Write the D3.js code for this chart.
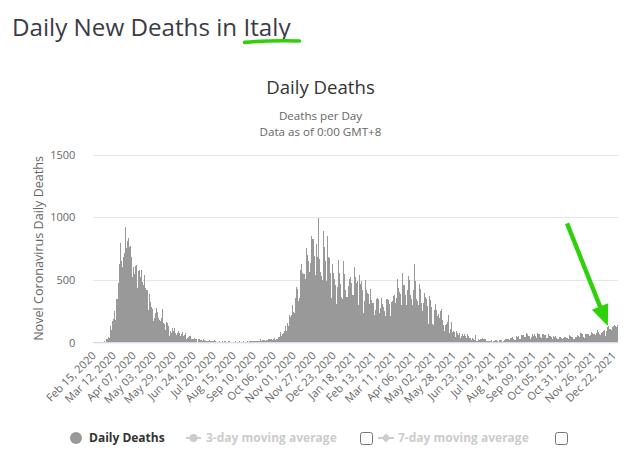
<!DOCTYPE html>
<html><head><meta charset="utf-8">
<script src="https://cdn.jsdelivr.net/npm/d3@7/dist/d3.min.js"></script>
<style>
html,body{margin:0;padding:0;background:#fff;}
svg{display:block;}
text{font-family:"Open Sans","Noto Sans",sans-serif;}
</style></head><body>
<svg id="c" width="641" height="458"></svg>
<script>
// ---- data (daily deaths, Italy) starting Feb 15, 2020 ----
const startDate = "Feb 15, 2020";
const feb2020 = [0,0,0,0,0,0,1,1,1,4,3,2,5,4,8];
const mar2020 = [5,18,27,28,41,49,36,133,97,168,196,189,250,175,368,349,345,475,427,627,793,651,601,743,683,712,919,889,756,812,837];
const apr2020 = [727,760,766,681,525,636,604,542,610,570,619,431,566,602,578,525,575,482,433,454,534,437,464,420,415,260,333,382,323,285];
const may2020 = [269,474,174,195,236,369,274,243,194,165,179,172,195,262,242,153,145,99,162,161,156,130,119,50,92,78,117,70,87,111,75];
const jun2020 = [60,55,71,88,85,72,53,65,79,71,53,56,78,44,26,34,43,66,47,49,24,23,18,30,34,30,8,24,6,23];
const jul2020 = [21,30,15,21,7,8,30,15,12,12,7,7,13,17,20,11,13,11,3,13,15,9,10,5,4,5,5,11,6,3,9];
const aug2020 = [12,5,8,10,6,5,3,11,9,7,3,4,1,6,5,3,7,4,5,6,5,3,9,4,5,13,4,9,1,4,13];
const sep2020 = [6,10,6,10,11,7,10,11,10,10,10,7,7,14,9,12,10,10,24,14,14,20,19,17,14,24,17,16,24,23];
const oct2020 = [23,27,24,17,18,28,31,22,28,29,26,39,41,43,83,47,47,69,73,89,127,136,91,151,128,141,221,205,217,199,297];
const nov2020 = [239,233,353,352,445,425,331,297,356,580,623,636,550,544,546,504,731,753,699,653,692,562,630,853,722,822,827,686,541,672];
const dec2020 = [785,684,993,814,662,564,528,491,499,887,761,649,484,491,846,680,683,674,553,352,415,628,553,505,459,261,305,445,659,575,555];
const jan2021 = [462,364,347,348,649,548,414,483,361,361,448,616,507,522,477,475,377,377,603,524,521,472,492,299,420,541,467,492,477,421,237];
const feb2021 = [329,499,456,421,391,385,221,307,422,336,391,316,311,221,258,336,347,353,347,251,232,274,356,318,308,280,253,207];
const mar2021 = [274,343,347,339,297,307,207,318,376,332,373,380,317,264,354,502,431,423,401,386,300,386,551,460,457,380,376,297,417,529,467];
const apr2021 = [501,376,344,326,296,421,627,487,718,344,331,297,476,469,429,316,344,251,316,390,360,364,342,293,144,301,373,336,278,221];
const may2021 = [144,139,256,305,267,258,207,224,139,198,251,262,201,182,136,93,140,201,149,164,218,125,72,110,166,121,86,87,83,44,67];
const jun2021 = [93,73,62,59,77,32,51,102,65,52,63,52,26,36,63,52,37,32,31,17,21,34,30,21,56,28,14,14,24,28];
const jul2021 = [21,25,25,14,31,28,25,25,12,7,7,13,20,13,10,16,11,3,10,14,15,17,15,11,4,22,15,22,18,19,5];
const aug2021 = [9,22,27,21,27,27,24,15,17,31,31,22,41,23,22,21,69,49,42,49,55,27,29,58,65,60,59,39,44,54,75];
const sep2021 = [69,49,57,53,30,40,73,64,51,63,48,36,36,72,67,47,63,44,34,49,67,63,58,55,47,32,33,63,52,49];
const oct2021 = [50,46,34,27,50,39,51,43,36,27,28,59,41,43,36,35,29,36,43,39,46,34,33,24,30,58,49,45,32,44,24];
const nov2021 = [24,45,68,46,57,50,31,40,71,73,51,64,46,36,48,67,67,69,65,40,48,60,85,71,72,69,69,66,58,74];
const dec2021 = [97,81,80,70,55,73,120,81,89,96,86,49,90,120,129,123,107,105,97,120,121,127,136,129,131,123,142];

const tickLabels = ["Feb 15, 2020","Mar 12, 2020","Apr 07, 2020","May 03, 2020","May 29, 2020","Jun 24, 2020","Jul 20, 2020","Aug 15, 2020","Sep 10, 2020","Oct 06, 2020","Nov 01, 2020","Nov 27, 2020","Dec 23, 2020","Jan 18, 2021","Feb 13, 2021","Mar 11, 2021","Apr 06, 2021","May 02, 2021","May 28, 2021","Jun 23, 2021","Jul 19, 2021","Aug 14, 2021","Sep 09, 2021","Oct 05, 2021","Oct 31, 2021","Nov 26, 2021","Dec 22, 2021"];
const tickInterval = 26;
const yTicks = [0, 500, 1000, 1500];
const yMax = 1500;
// annotation arrow in data coordinates [day index, value]
const arrowFrom = [616, 950];
const arrowTo = [669, 130];

const values = [].concat(feb2020,mar2020,apr2020,may2020,jun2020,jul2020,aug2020,sep2020,oct2020,nov2020,dec2020,
  jan2021,feb2021,mar2021,apr2021,may2021,jun2021,jul2021,aug2021,sep2021,oct2021,nov2021,dec2021);
const n = values.length;

// ---- layout ----
const svg = d3.select("#c");
const plot = {left: 93.3, right: 617.8, top: 154.5, bottom: 342.3};

const x = d3.scaleBand().domain(d3.range(n)).range([plot.left, plot.right]).padding(0);
const y = d3.scaleLinear().domain([0, yMax]).range([plot.bottom, plot.top]);

// page heading
const title = svg.append("text").attr("x", 12).attr("y", 36)
  .attr("font-size", 24.2).attr("fill", "#3b3b46");
title.append("tspan").text("Daily New Deaths in ");
title.append("tspan").text("Italy");
const tn = title.node();
const ux0 = tn.getStartPositionOfChar(20).x, ux1 = tn.getEndPositionOfChar(24).x;
svg.append("path")
  .attr("d", `M${ux0+1},42.4 Q${(ux0+ux1)/2},40.2 ${ux1+9},41`)
  .attr("fill","none").attr("stroke","#2ed10a").attr("stroke-width",3.6).attr("stroke-linecap","round");

// chart title & subtitle
svg.append("text").attr("x", 320.5).attr("y", 94).attr("text-anchor","middle")
  .attr("font-size", 18.6).attr("fill","#333333").text("Daily Deaths");
svg.append("text").attr("x", 320.5).attr("y", 119.6).attr("text-anchor","middle")
  .attr("font-size", 11.6).attr("fill","#666666").text("Deaths per Day");
svg.append("text").attr("x", 320.5).attr("y", 135.8).attr("text-anchor","middle")
  .attr("font-size", 11.6).attr("fill","#666666").text("Data as of 0:00 GMT+8");

// y grid + labels
const yAxis = d3.axisLeft(y).tickValues(yTicks).tickSize(-(plot.right-plot.left)).tickPadding(18).tickFormat(d3.format("d"));
const gy = svg.append("g").attr("transform", `translate(${plot.left},0)`).call(yAxis);
gy.select(".domain").remove();
gy.selectAll(".tick line").attr("stroke","#e6e6e6").attr("shape-rendering","crispEdges");
gy.selectAll(".tick text").attr("fill","#666666").attr("font-size",11).attr("font-family",'"Open Sans",sans-serif').attr("dy","0.35em");

// y title
svg.append("text").attr("transform", `translate(43,${(plot.top+plot.bottom)/2}) rotate(-90)`)
  .attr("text-anchor","middle").attr("font-size",12.6).attr("fill","#666666")
  .text("Novel Coronavirus Daily Deaths");

// bars
svg.append("g").selectAll("rect").data(values).join("rect")
  .attr("x", (d,i) => x(i)).attr("width", x.bandwidth())
  .attr("y", d => y(d)).attr("height", d => y(0) - y(d))
  .attr("fill", "#999999").attr("shape-rendering","crispEdges");

// x axis
const xAxis = d3.axisBottom(x).tickValues(d3.range(0, n, tickInterval).filter(i => i/tickInterval < tickLabels.length))
  .tickSize(0).tickFormat(i => tickLabels[i / tickInterval]);
const gx = svg.append("g").attr("transform", `translate(0,${plot.bottom})`).call(xAxis);
gx.select(".domain").attr("stroke","#ccd6eb").attr("d", `M${plot.left},0.5H${plot.right}`);
gx.selectAll(".tick text").attr("fill","#666666").attr("font-size",11).attr("font-family",'"Open Sans",sans-serif')
  .attr("y",0).attr("dy",0).attr("text-anchor","end").attr("transform","translate(3,14) rotate(-45)");

// annotation arrow
const ax0 = x(arrowFrom[0]), ay0 = y(arrowFrom[1]);
const ax1 = x(arrowTo[0]), ay1 = y(arrowTo[1]);
const dx = ax1-ax0, dy = ay1-ay0, L = Math.hypot(dx,dy), ux = dx/L, uy = dy/L;
const headLen = 21, headHalf = 8.8;
const bx = ax1 - ux*headLen, by = ay1 - uy*headLen;
svg.append("line").attr("x1",ax0).attr("y1",ay0).attr("x2",bx+ux*2).attr("y2",by+uy*2)
  .attr("stroke","#2ed10a").attr("stroke-width",4.4);
svg.append("path").attr("d", `M${ax1},${ay1}L${bx - uy*headHalf},${by + ux*headHalf}L${bx + uy*headHalf},${by - ux*headHalf}Z`)
  .attr("fill","#2ed10a");

// legend
const lg = svg.append("g").attr("font-size",12).attr("font-weight","bold");
const ly = 438;
lg.append("circle").attr("cx",76).attr("cy",ly).attr("r",6).attr("fill","#999999");
lg.append("text").attr("x",89).attr("y",ly+4.3).attr("fill","#333333").text("Daily Deaths");
lg.append("line").attr("x1",186).attr("x2",201).attr("y1",ly).attr("y2",ly).attr("stroke","#cccccc").attr("stroke-width",2);
lg.append("circle").attr("cx",193.5).attr("cy",ly).attr("r",4).attr("fill","#cccccc");
lg.append("text").attr("x",206).attr("y",ly+4.3).attr("fill","#cccccc").text("3-day moving average");
lg.append("rect").attr("x",360.5).attr("y",432.5).attr("width",12).attr("height",12).attr("rx",2)
  .attr("fill","#fff").attr("stroke","#767676");
lg.append("line").attr("x1",378).attr("x2",394).attr("y1",ly).attr("y2",ly).attr("stroke","#cccccc").attr("stroke-width",2);
lg.append("path").attr("d",`M386,${ly-4.5}L390.5,${ly}L386,${ly+4.5}L381.5,${ly}Z`).attr("fill","#cccccc");
lg.append("text").attr("x",398).attr("y",ly+4.3).attr("fill","#cccccc").text("7-day moving average");
lg.append("rect").attr("x",555.5).attr("y",432.5).attr("width",12).attr("height",12).attr("rx",2)
  .attr("fill","#fff").attr("stroke","#767676");
</script>
</body></html>
